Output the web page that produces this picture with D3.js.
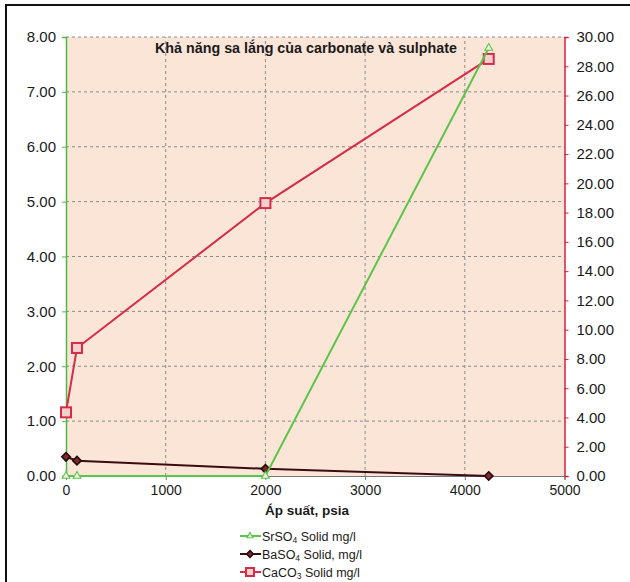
<!DOCTYPE html>
<html>
<head>
<meta charset="utf-8">
<script src="https://cdn.jsdelivr.net/npm/d3@7"></script>
<style>
  body { margin: 0; background: #fff; }
  text { font-family: "Liberation Sans", Arial, sans-serif; fill: #1a1a1a; }
</style>
</head>
<body>
<div id="chart"></div>
<script>
// pressure values (psia)
const pressure = [0, 110, 2000, 4240];
const srso4 = [0, 0, 0, 7.8];        // left axis
const baso4 = [0.35, 0.28, 0.13, 0]; // left axis
const caco3 = [4.35, 8.75, 18.65, 28.5]; // right axis

const xTicks = [0, 1000, 2000, 3000, 4000, 5000];
const leftTicks = [0, 1, 2, 3, 4, 5, 6, 7, 8];
const rightTicks = d3.range(0, 31, 2);

const W = 630, H = 582;
const margin = {top: 37, left: 66, right: 66, bottom: 106};

let svg = d3.select('#chart').append('svg')
    .attr('width', W)
    .attr('height', H);

// outer frame
svg.append('rect')
    .attr('x', 6).attr('y', 5)
    .attr('width', 640).attr('height', 600)
    .attr('fill', 'none')
    .attr('stroke', '#111')
    .attr('stroke-width', 2);

let x = d3.scaleLinear().domain([0, 5000]).range([margin.left, W - margin.right + 0.5]);
let yL = d3.scaleLinear().domain([0, 8]).range([H - margin.bottom, margin.top]);
let yR = d3.scaleLinear().domain([0, 30]).range([H - margin.bottom, margin.top]);

// plot background
svg.append('rect')
    .attr('x', x(0)).attr('y', yL(8))
    .attr('width', x(5000) - x(0))
    .attr('height', yL(0) - yL(8))
    .attr('fill', '#fbe5d7');

// grid lines
svg.append('g').selectAll('line.h').data(leftTicks.slice(1))
    .enter().append('line')
    .attr('x1', x(0)).attr('x2', x(5000))
    .attr('y1', d => yL(d)).attr('y2', d => yL(d))
    .attr('stroke', '#8a8a8a')
    .attr('stroke-dasharray', '3,3');
svg.append('g').selectAll('line.v').data(xTicks.slice(1, -1))
    .enter().append('line')
    .attr('x1', d => x(d)).attr('x2', d => x(d))
    .attr('y1', yL(0)).attr('y2', yL(8))
    .attr('stroke', '#8a8a8a')
    .attr('stroke-dasharray', '3,3');

// bottom axis
let xAxis = svg.append('g')
    .attr('transform', 'translate(0,' + yL(0) + ')')
    .call(d3.axisBottom(x).tickValues(xTicks).tickFormat(d3.format('d')).tickSize(4).tickPadding(5));
xAxis.select('.domain').attr('stroke', '#777');
xAxis.selectAll('.tick line').attr('stroke', '#777');
xAxis.selectAll('text').style('font-size', '14px').attr('fill', '#1a1a1a');

// left axis (green)
let leftAxis = svg.append('g')
    .attr('transform', 'translate(' + x(0) + ',0)')
    .call(d3.axisLeft(yL).tickValues(leftTicks).tickFormat(d3.format('.2f')).tickSize(4).tickPadding(6));
leftAxis.select('.domain').attr('stroke', '#4cb848').attr('stroke-width', 1.5);
leftAxis.selectAll('.tick line').attr('stroke', '#4cb848');
leftAxis.selectAll('text').style('font-size', '15px').attr('fill', '#1a1a1a');

// right axis (red)
let rightAxis = svg.append('g')
    .attr('transform', 'translate(' + x(5000) + ',0)')
    .call(d3.axisRight(yR).tickValues(rightTicks).tickFormat(d3.format('.2f')).tickSize(4).tickPadding(8));
rightAxis.select('.domain').attr('stroke', '#d8213b').attr('stroke-width', 1.5);
rightAxis.selectAll('.tick line').attr('stroke', '#d8213b');
rightAxis.selectAll('text').style('font-size', '15px').attr('fill', '#1a1a1a');

// series
let series = [
    {name: 'SrSO', sub: '4', rest: ' Solid mg/l', values: srso4, scale: yL, color: '#5cc44c', marker: 'tri'},
    {name: 'BaSO', sub: '4', rest: ' Solid, mg/l', values: baso4, scale: yL, color: '#3a0c12', marker: 'dia'},
    {name: 'CaCO', sub: '3', rest: ' Solid mg/l', values: caco3, scale: yR, color: '#d52c47', marker: 'sq'}
];

function drawMarker(g, type, cx, cy, k) {
    k = k || 1;
    if (type === 'tri') {
        g.append('path')
            .attr('d', d3.symbol(d3.symbolTriangle, 26 * k * k)())
            .attr('transform', 'translate(' + cx + ',' + cy + ')')
            .attr('fill', '#e9f5e0').attr('stroke', '#5cc44c').attr('stroke-width', 1.1);
    } else if (type === 'dia') {
        let r = 4.2 * k;
        g.append('path')
            .attr('d', 'M' + cx + ',' + (cy - r) + 'L' + (cx + r) + ',' + cy + 'L' + cx + ',' + (cy + r) + 'L' + (cx - r) + ',' + cy + 'Z')
            .attr('fill', '#7a2a30').attr('stroke', '#2a080c').attr('stroke-width', 1.6);
    } else {
        let s = 5 * k;
        g.append('rect')
            .attr('x', cx - s).attr('y', cy - s)
            .attr('width', 2 * s).attr('height', 2 * s)
            .attr('fill', '#f6d0cc').attr('stroke', '#d52c47').attr('stroke-width', 2);
    }
}

let plot = svg.append('g');
[series[2], series[1], series[0]].forEach(s => {
    let line = d3.line()
        .x((d, i) => x(pressure[i]))
        .y(d => s.scale(d));
    plot.append('path')
        .datum(s.values)
        .attr('d', line)
        .attr('fill', 'none')
        .attr('stroke', s.color)
        .attr('stroke-width', 2);
    s.values.forEach((v, i) => drawMarker(plot, s.marker, x(pressure[i]), s.scale(v)));
});

// title
svg.append('text')
    .attr('x', 306).attr('y', 53)
    .attr('text-anchor', 'middle')
    .style('font-size', '14.3px')
    .style('font-weight', 'bold')
    .text('Khả năng sa lắng của carbonate và sulphate');

// x axis title
svg.append('text')
    .attr('x', 307).attr('y', 515)
    .attr('text-anchor', 'middle')
    .style('font-size', '13.5px')
    .style('font-weight', 'bold')
    .text('Áp suất, psia');

// legend
let legend = svg.append('g');
series.forEach((s, i) => {
    let ly = 536 + i * 18;
    legend.append('line')
        .attr('x1', 240).attr('x2', 261)
        .attr('y1', ly).attr('y2', ly)
        .attr('stroke', s.color).attr('stroke-width', 2);
    drawMarker(legend, s.marker, 250, ly, 0.8);
    let t = legend.append('text')
        .attr('x', 262).attr('y', ly + 4.5)
        .style('font-size', '12.5px');
    t.append('tspan').text(s.name);
    t.append('tspan').attr('dy', 2.5).style('font-size', '8.5px').text(s.sub);
    t.append('tspan').attr('dy', -2.5).text(s.rest);
});
</script>
</body>
</html>
